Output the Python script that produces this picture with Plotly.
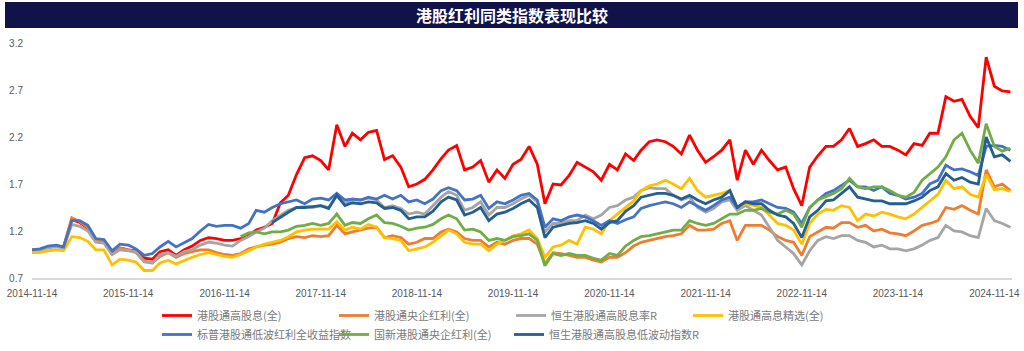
import pandas as pd
import plotly.graph_objects as go

# Monthly observation dates (2014-11-14 .. 2025-01-14)
dates = pd.date_range("2014-11-14", periods=123, freq=pd.DateOffset(months=1))

names = [
    "港股通高股息(全)", "港股通央企红利(全)", "恒生港股通高股息率R", "港股通高息精选(全)",
    "标普港股通低波红利全收益指数", "国新港股通央企红利(全)", "恒生港股通高股息低波动指数R",
]
colors = ["#FF0000", "#ED7D31", "#A5A5A5", "#FFC000", "#4472C4", "#70AD47", "#255E91"]

red = [1.00, 1.00, 1.03, 1.04, 1.03, 1.32, 1.29, 1.23, 1.10, 1.08, 0.96, 1.02, 1.00, 0.99, 0.91, 0.90, 0.98, 1.00, 0.94, 1.00, 1.04, 1.10, 1.13, 1.12, 1.10, 1.10,
       1.12, 1.15, 1.21, 1.24, 1.28, 1.50, 1.58, 1.80, 1.98, 2.00, 1.95, 1.85, 2.33, 2.10, 2.24, 2.17, 2.25, 2.27, 1.96, 2.00, 1.88, 1.67, 1.70, 1.75, 1.85,
       1.97, 2.06, 2.11, 1.85, 1.88, 1.95, 1.72, 1.85, 1.76, 1.91, 1.96, 2.10, 1.91, 1.49, 1.70, 1.69, 1.79, 1.93, 1.88, 1.83, 1.74, 1.91, 1.85, 2.02, 1.95,
       2.06, 2.15, 2.17, 2.15, 2.10, 2.02, 2.22, 2.06, 1.93, 1.99, 2.06, 2.17, 1.74, 2.06, 1.91, 2.06, 1.95, 1.85, 1.88, 1.65, 1.47, 1.88, 2.00, 2.10, 2.10,
       2.17, 2.29, 2.10, 2.13, 2.17, 2.10, 2.10, 2.06, 2.01, 2.13, 2.11, 2.24, 2.24, 2.63, 2.58, 2.60, 2.42, 2.30, 3.05, 2.74, 2.69, 2.68]

orange = [1.00, 1.00, 1.03, 1.04, 1.03, 1.34, 1.30, 1.24, 1.10, 1.09, 0.95, 1.02, 1.00, 0.98, 0.88, 0.86, 0.93, 0.97, 0.92, 0.96, 0.98, 1.00, 1.00, 0.97, 0.95, 0.94,
          0.96, 1.01, 1.03, 1.05, 1.06, 1.08, 1.12, 1.14, 1.13, 1.15, 1.14, 1.15, 1.26, 1.17, 1.19, 1.21, 1.23, 1.24, 1.13, 1.15, 1.13, 1.06, 1.08, 1.12, 1.12,
          1.19, 1.22, 1.19, 1.12, 1.10, 1.10, 1.03, 1.08, 1.06, 1.10, 1.12, 1.12, 1.06, 0.85, 0.97, 0.96, 0.94, 0.92, 0.92, 0.89, 0.87, 0.92, 0.92, 0.97, 1.04,
          1.08, 1.10, 1.12, 1.14, 1.15, 1.17, 1.26, 1.21, 1.21, 1.22, 1.28, 1.31, 1.10, 1.26, 1.26, 1.26, 1.21, 1.14, 1.10, 1.08, 0.94, 1.14, 1.19, 1.24, 1.23,
          1.29, 1.29, 1.24, 1.26, 1.20, 1.22, 1.18, 1.17, 1.15, 1.20, 1.26, 1.28, 1.31, 1.45, 1.43, 1.47, 1.42, 1.38, 1.85, 1.67, 1.70, 1.63]

gray = [1.00, 1.00, 1.02, 1.03, 1.02, 1.27, 1.25, 1.20, 1.08, 1.07, 0.95, 1.00, 0.99, 0.97, 0.87, 0.86, 0.95, 0.97, 0.93, 0.98, 1.00, 1.05, 1.08, 1.07, 1.05, 1.04,
        1.10, 1.14, 1.19, 1.23, 1.31, 1.37, 1.42, 1.45, 1.46, 1.45, 1.47, 1.45, 1.58, 1.49, 1.54, 1.53, 1.55, 1.53, 1.45, 1.47, 1.44, 1.38, 1.40, 1.38, 1.47,
        1.56, 1.62, 1.58, 1.42, 1.45, 1.51, 1.37, 1.45, 1.45, 1.49, 1.54, 1.58, 1.51, 1.19, 1.28, 1.28, 1.31, 1.31, 1.37, 1.33, 1.37, 1.45, 1.47, 1.53, 1.56,
        1.63, 1.66, 1.65, 1.65, 1.58, 1.53, 1.56, 1.45, 1.40, 1.44, 1.51, 1.53, 1.42, 1.47, 1.42, 1.37, 1.24, 1.10, 1.03, 0.96, 0.84, 0.99, 1.10, 1.14, 1.12,
        1.15, 1.15, 1.10, 1.08, 1.03, 1.05, 1.01, 1.01, 0.99, 1.01, 1.05, 1.10, 1.13, 1.26, 1.20, 1.19, 1.15, 1.13, 1.44, 1.31, 1.28, 1.24]

yellow = [0.97, 0.97, 0.99, 1.00, 0.99, 1.14, 1.13, 1.09, 1.00, 1.00, 0.84, 0.90, 0.89, 0.87, 0.78, 0.78, 0.86, 0.89, 0.85, 0.89, 0.92, 0.95, 0.97, 0.95, 0.93, 0.92,
          0.95, 0.99, 1.03, 1.06, 1.08, 1.10, 1.14, 1.19, 1.21, 1.22, 1.22, 1.22, 1.30, 1.21, 1.24, 1.22, 1.27, 1.24, 1.13, 1.12, 1.10, 0.99, 1.01, 1.03, 1.08,
          1.15, 1.21, 1.17, 1.08, 1.06, 1.06, 0.99, 1.06, 1.10, 1.15, 1.17, 1.21, 1.12, 0.92, 1.03, 1.05, 1.10, 1.06, 1.24, 1.22, 1.17, 1.31, 1.38, 1.45, 1.52,
          1.63, 1.68, 1.70, 1.74, 1.70, 1.65, 1.76, 1.63, 1.56, 1.58, 1.60, 1.63, 1.45, 1.49, 1.47, 1.45, 1.37, 1.28, 1.26, 1.21, 1.06, 1.28, 1.38, 1.43, 1.42,
          1.47, 1.45, 1.31, 1.38, 1.36, 1.40, 1.38, 1.35, 1.33, 1.38, 1.45, 1.52, 1.59, 1.74, 1.65, 1.67, 1.59, 1.56, 1.80, 1.64, 1.65, 1.62]

blue = [1.00, 1.01, 1.04, 1.05, 1.03, 1.31, 1.31, 1.26, 1.12, 1.11, 0.99, 1.06, 1.05, 1.01, 0.94, 0.96, 1.03, 1.09, 1.03, 1.08, 1.12, 1.20, 1.27, 1.25, 1.26, 1.26,
        1.23, 1.28, 1.42, 1.40, 1.45, 1.49, 1.51, 1.53, 1.49, 1.54, 1.55, 1.53, 1.60, 1.53, 1.54, 1.53, 1.56, 1.54, 1.58, 1.54, 1.58, 1.51, 1.53, 1.49, 1.54,
        1.63, 1.66, 1.63, 1.53, 1.54, 1.58, 1.44, 1.51, 1.49, 1.53, 1.58, 1.60, 1.53, 1.24, 1.33, 1.31, 1.35, 1.37, 1.35, 1.31, 1.26, 1.31, 1.28, 1.32, 1.35,
        1.44, 1.47, 1.49, 1.51, 1.49, 1.45, 1.51, 1.47, 1.42, 1.47, 1.53, 1.56, 1.45, 1.51, 1.51, 1.53, 1.49, 1.45, 1.44, 1.40, 1.28, 1.45, 1.53, 1.60, 1.63,
        1.69, 1.74, 1.67, 1.67, 1.63, 1.67, 1.60, 1.58, 1.54, 1.56, 1.60, 1.70, 1.74, 1.90, 1.85, 1.86, 1.83, 1.79, 2.10, 2.11, 2.10, 2.06]

green = [None] * 26 + [
        1.14, 1.18, 1.19, 1.17, 1.19, 1.19, 1.21, 1.25, 1.26, 1.28, 1.26, 1.28, 1.38, 1.26, 1.29, 1.28, 1.33, 1.37, 1.29, 1.28, 1.25, 1.21, 1.23, 1.24, 1.27,
        1.33, 1.37, 1.33, 1.21, 1.22, 1.19, 1.10, 1.12, 1.10, 1.14, 1.15, 1.17, 1.10, 0.83, 0.96, 0.94, 0.96, 0.94, 0.94, 0.91, 0.89, 0.96, 0.94, 1.04, 1.10,
        1.14, 1.15, 1.17, 1.19, 1.21, 1.21, 1.31, 1.28, 1.26, 1.28, 1.33, 1.38, 1.38, 1.42, 1.42, 1.44, 1.40, 1.38, 1.42, 1.38, 1.24, 1.45, 1.53, 1.57, 1.60,
        1.65, 1.76, 1.67, 1.65, 1.67, 1.67, 1.63, 1.58, 1.56, 1.61, 1.74, 1.81, 1.88, 1.99, 2.17, 2.24, 2.06, 1.92, 2.34, 2.10, 2.05, 2.08]

darkblue = [None] * 30 + [
        1.29, 1.35, 1.40, 1.45, 1.45, 1.46, 1.47, 1.44, 1.58, 1.47, 1.50, 1.49, 1.51, 1.50, 1.44, 1.45, 1.42, 1.33, 1.35, 1.35, 1.41,
        1.51, 1.56, 1.53, 1.37, 1.40, 1.45, 1.31, 1.38, 1.40, 1.44, 1.49, 1.53, 1.45, 1.13, 1.24, 1.26, 1.28, 1.29, 1.31, 1.28, 1.22, 1.29, 1.31, 1.41, 1.47,
        1.56, 1.58, 1.60, 1.60, 1.58, 1.54, 1.58, 1.53, 1.49, 1.53, 1.56, 1.63, 1.45, 1.51, 1.49, 1.49, 1.42, 1.37, 1.35, 1.28, 1.13, 1.35, 1.42, 1.52, 1.53,
        1.60, 1.67, 1.56, 1.54, 1.52, 1.52, 1.49, 1.49, 1.49, 1.52, 1.56, 1.63, 1.67, 1.81, 1.74, 1.77, 1.72, 1.70, 2.20, 1.99, 2.01, 1.94]

series = [red, orange, gray, yellow, blue, green, darkblue]
legend_ids = ["legend", "legend", "legend", "legend", "legend2", "legend2", "legend3"]

x_ticks = ["2014-11-14", "2015-11-14", "2016-11-14", "2017-11-14", "2018-11-14", "2019-11-14",
           "2020-11-14", "2021-11-14", "2022-11-14", "2023-11-14", "2024-11-14"]
y_ticks = [0.7, 1.2, 1.7, 2.2, 2.7, 3.2]

title_text = "港股红利同类指数表现比较"

fig = go.Figure()
for name, col, vals, lg in zip(names, colors, series, legend_ids):
    fig.add_trace(go.Scatter(x=dates, y=vals, name=name, mode="lines", legend=lg,
                             line=dict(color=col, width=2.8), connectgaps=False))

W, H = 1024, 351
L, R, T, B = 32, 12, 43, 73
pw, ph = W - L - R, H - T - B

def px(X):
    return (X - L) / pw

def py(Y):
    return (H - B - Y) / ph

def legend_cfg(x, y, ew):
    return dict(orientation="h", xanchor="left", yanchor="top", x=px(x), y=py(y),
                font=dict(family="Noto Sans CJK SC", size=11, color="#7a7a7a"),
                entrywidth=ew, entrywidthmode="pixels", itemwidth=30,
                tracegroupgap=0, bgcolor="rgba(0,0,0,0)")

fig.update_layout(
    width=W, height=H,
    margin=dict(l=L, r=R, t=T, b=B, autoexpand=False),
    paper_bgcolor="white", plot_bgcolor="white",
    font=dict(family="Liberation Sans", color="#595959", size=10),
    showlegend=True,
    legend=legend_cfg(157, 301, 132),
    legend2=legend_cfg(157, 320, 132),
    legend3=legend_cfg(157 + 2 * 176, 320, 200),
    shapes=[dict(type="rect", xref="paper", yref="paper",
                 x0=px(5), x1=px(1018), y0=py(28), y1=py(2),
                 fillcolor="#12124a", line=dict(width=0), layer="below")],
    annotations=[dict(text="<b>" + title_text + "</b>", xref="paper", yref="paper",
                      x=px(512), y=py(15), xanchor="center", yanchor="middle",
                      showarrow=False,
                      font=dict(family="Noto Sans CJK SC", size=16, color="white"))],
)
fig.update_xaxes(type="date", range=["2014-11-14", "2025-01-20"], automargin=False,
                 tickvals=x_ticks, ticktext=x_ticks, showgrid=False, zeroline=False,
                 showline=True, linecolor="#d9d9d9", linewidth=2, ticks="",
                 ticklabelstandoff=5, tickfont=dict(size=10, color="#595959"))
fig.update_yaxes(range=[0.7, 3.2], tickvals=y_ticks, ticktext=[str(v) for v in y_ticks],
                 showgrid=False, zeroline=False, showline=False, ticks="", automargin=False,
                 ticklabelstandoff=8, tickfont=dict(size=10, color="#595959"))

fig.write_html("out.html")
